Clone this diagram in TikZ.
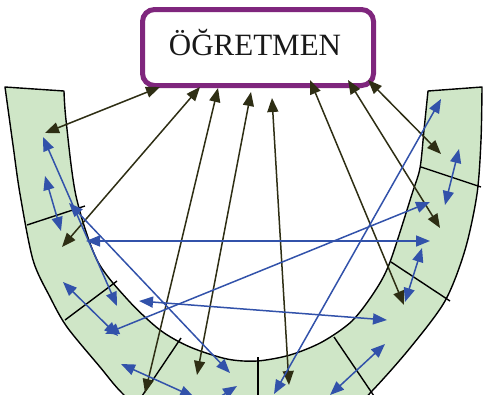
\documentclass[tikz,border=0pt]{standalone}
\usepackage{fontspec}
\setmainfont{Liberation Serif}
\usetikzlibrary{arrows.meta}
\definecolor{bandgreen}{RGB}{207,230,199}
\definecolor{boxpurple}{RGB}{127,38,125}
\definecolor{darkarrow}{RGB}{46,46,20}
\definecolor{bluearrow}{RGB}{50,82,170}
\begin{document}
\begin{tikzpicture}[x=1pt,y=-1pt,
  band/.style={fill=bandgreen,draw=black,line width=1.4pt,line join=round},
  divider/.style={draw=black,line width=1.4pt},
  tlink/.style={draw=darkarrow,line width=1.5pt,
    {Triangle[length=14pt,width=11pt,fill=darkarrow]}-{Triangle[length=14pt,width=11pt,fill=darkarrow]}},
  slink/.style={draw=bluearrow,line width=1.5pt,
    {Triangle[length=14pt,width=11pt,fill=bluearrow]}-{Triangle[length=14pt,width=11pt,fill=bluearrow]}},
  sone/.style={draw=bluearrow,line width=1.5pt,
    -{Triangle[length=14pt,width=11pt,fill=bluearrow]}},
  teacherbox/.style={draw=boxpurple,line width=5pt,rounded corners=12pt,
    minimum width=231pt,minimum height=76pt,inner sep=0pt,fill=white},
  labeltext/.style={font=\fontsize{31}{31}\selectfont,text=black!90,anchor=base,inner sep=0pt}
  ]
\useasboundingbox (0,0) rectangle (484,394);
\clip (0,0) rectangle (484,394);

% student band
\path[band] plot[smooth,tension=0.5] coordinates {(5,87) (13,145) (20,194) (33,260) (50,297) (67,327) (100,367) (123,394) (162,427) (248,450) (334,427) (372,391) (410,348) (445,301) (465,250) (477,194) (481,140) (482,87)}
  -- plot[smooth,tension=0.5] coordinates {(428,91) (424,130) (420,168) (412,194) (390,262) (375,291) (352,321) (322,342) (290,355) (257,361) (227,359) (190,347) (160,330) (128,300) (97,260) (76,196) (66,120) (64,91)}
  -- cycle;

% dividers
\draw[divider] (27,225) -- (85,206);
\draw[divider] (65,320) -- (117,281);
\draw[divider] (142,396) -- (181,338);
\draw[divider] (258,357) -- (258,396);
\draw[divider] (334,337) -- (374,396);
\draw[divider] (391,262) -- (450,301);
\draw[divider] (421,167) -- (481,187);

% teacher
\node[teacherbox] (teacher) at (258,47.5) {};
\node[labeltext] (teacherlabel) at (255,55) {ÖĞRETMEN};

% endpoints of teacher links
\coordinate (t1) at (160,87);  \coordinate (s1) at (45,133);
\coordinate (t2) at (200,87);  \coordinate (s2) at (62,247);
\coordinate (t3) at (218,88);  \coordinate (s3) at (145,393);
\coordinate (t4) at (251,92);  \coordinate (s4) at (197,375);
\coordinate (t5) at (272,98);  \coordinate (s5) at (289,385);
\coordinate (t6) at (310,80);  \coordinate (s6) at (404,305);
\coordinate (t7) at (348,80);  \coordinate (s7) at (440,228);
\coordinate (t8) at (368,80);  \coordinate (s8) at (441,154);

\foreach \i in {1,...,8} \draw[tlink] (t\i) -- (s\i);

% student-student links
\coordinate (a1) at (43,137);  \coordinate (b1) at (117,306);
\coordinate (a2) at (69,203);  \coordinate (b2) at (230,373);
\coordinate (a3) at (45,176);  \coordinate (b3) at (61,231);
\coordinate (a4) at (86,241);  \coordinate (b4) at (430,241);
\coordinate (a5) at (63,282);  \coordinate (b5) at (118,336);
\coordinate (a6) at (105,334); \coordinate (b6) at (430,202);
\coordinate (a7) at (139,301); \coordinate (b7) at (387,320);
\coordinate (a8) at (121,364); \coordinate (b8) at (194,397);
\coordinate (a10) at (274,394); \coordinate (b10) at (441,99);
\coordinate (a11) at (459,149); \coordinate (b11) at (445,205);
\coordinate (a12) at (422,248); \coordinate (b12) at (405,302);
\coordinate (a13) at (385,344); \coordinate (b13) at (330,395);

\foreach \i in {1,2,3,4,5,6,7,8,10,11,12,13} \draw[slink] (a\i) -- (b\i);

\coordinate (a9) at (212,402); \coordinate (b9) at (237,386);
\draw[sone] (a9) -- (b9);
\end{tikzpicture}
\end{document}
